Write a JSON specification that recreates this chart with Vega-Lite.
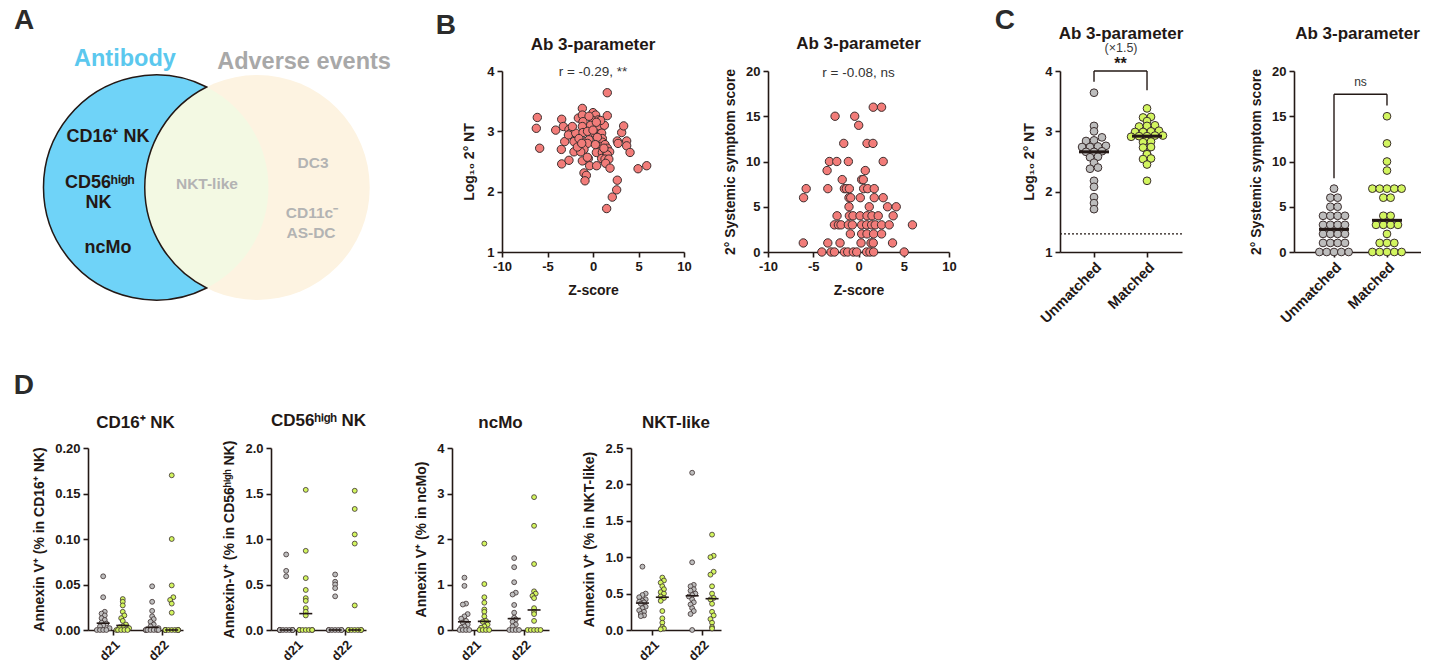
{
"$schema": "https://vega.github.io/schema/vega-lite/v6.json",
"background": "white",
"padding": {"left": 13, "top": 6, "right": 0, "bottom": 0},
"config": {
  "font": "Liberation Sans",
  "locale": {"number": {"decimal": ".", "thousands": ",", "grouping": [3], "currency": ["$", ""], "minus": "-"}},
  "view": {"stroke": null},
  "axis": {"grid": false, "domainColor": "#231815", "domainWidth": 1.6, "tickColor": "#231815", "tickWidth": 1.6, "tickSize": 5, "labelColor": "#231815", "labelFontWeight": "bold", "labelFontSize": 13, "labelPadding": 3, "labelFlush": false, "labelOverlap": false, "titleColor": "#231815", "titleFontWeight": "bold", "titleFontSize": 14, "titlePadding": 8},
  "title": {"fontSize": 17, "fontWeight": "bold", "color": "#231815", "frame": "group", "anchor": "middle", "subtitleFontSize": 12.5, "subtitleColor": "#3a3a3a", "subtitleFontWeight": "normal", "subtitlePadding": 0}
},
"datasets": {
  "venn_sets": [{"set": "Antibody", "cx": 0, "cy": 0}, {"set": "Adverse events", "cx": 0.9, "cy": 0}],
  "venn_labels": [
    {"text": "A", "kind": "panel", "set": "none", "x": -1.173, "y": 1.48},
    {"text": "Antibody", "kind": "heading", "set": "Antibody", "x": -0.276, "y": 1.14},
    {"text": "Adverse events", "kind": "heading", "set": "Adverse events", "x": 1.316, "y": 1.12},
    {"text": "CD16⁺ NK", "kind": "cell", "set": "Antibody", "x": -0.427, "y": 0.449},
    {"text": "CD56ʰⁱᵍʰ", "kind": "cell", "set": "Antibody", "x": -0.5, "y": 0.04},
    {"text": "NK", "kind": "cell", "set": "Antibody", "x": -0.51, "y": -0.138},
    {"text": "ncMo", "kind": "cell", "set": "Antibody", "x": -0.427, "y": -0.538},
    {"text": "NKT-like", "kind": "cell", "set": "Both", "x": 0.453, "y": 0.031},
    {"text": "DC3", "kind": "cell", "set": "Adverse events", "x": 1.396, "y": 0.217},
    {"text": "CD11c⁻", "kind": "cell", "set": "Adverse events", "x": 1.387, "y": -0.231},
    {"text": "AS-DC", "kind": "cell", "set": "Adverse events", "x": 1.378, "y": -0.4}
  ],
  "stats": [{"plot": "b_nt", "label": "r = -0.29, **"}, {"plot": "b_sym", "label": "r = -0.08, ns"}, {"plot": "c_nt", "label": "**"}, {"plot": "c_sym", "label": "ns"}],
  "b_nt": [{"z":1.57,"v":3.64},{"z":-1.17,"v":3.38},{"z":-6.12,"v":3.23},{"z":-6.23,"v":3.05},{"z":-5.86,"v":2.72},{"z":-3.44,"v":3.2},{"z":-4.1,"v":3.02},{"z":-3.48,"v":2.7},{"z":-3.44,"v":2.46},{"z":-2.64,"v":2.52},{"z":-3.11,"v":2.83},{"z":-3.26,"v":3.08},{"z":-2.64,"v":3.03},{"z":-2.45,"v":2.97},{"z":-2.7,"v":2.94},{"z":-2.09,"v":2.83},{"z":-1.9,"v":2.97},{"z":-1.61,"v":3.22},{"z":-1.17,"v":3.27},{"z":-1.1,"v":3.16},{"z":-1.17,"v":3.08},{"z":-1.1,"v":2.98},{"z":-1.54,"v":2.88},{"z":-0.8,"v":2.83},{"z":-0.44,"v":2.86},{"z":-0.6,"v":2.8},{"z":-0.99,"v":2.7},{"z":-1.72,"v":2.69},{"z":-2.09,"v":2.66},{"z":-1.35,"v":2.66},{"z":-1.17,"v":2.51},{"z":-0.51,"v":2.55},{"z":-0.37,"v":2.43},{"z":0.4,"v":2.43},{"z":-0.99,"v":2.31},{"z":-0.73,"v":2.27},{"z":-0.88,"v":2.18},{"z":0,"v":3.31},{"z":0.29,"v":3.27},{"z":0,"v":3.18},{"z":0.59,"v":3.19},{"z":-0.26,"v":3.1},{"z":0.66,"v":3.09},{"z":1.25,"v":3.1},{"z":1.57,"v":3.26},{"z":0.84,"v":3.18},{"z":0.11,"v":2.98},{"z":0.95,"v":2.97},{"z":1.03,"v":2.88},{"z":0.66,"v":2.82},{"z":1.03,"v":2.82},{"z":0.84,"v":2.75},{"z":1.32,"v":2.78},{"z":1.57,"v":2.72},{"z":0.66,"v":2.66},{"z":0.37,"v":2.65},{"z":1.03,"v":2.65},{"z":1.47,"v":2.66},{"z":1.83,"v":2.66},{"z":1.57,"v":2.61},{"z":0.95,"v":2.55},{"z":1.32,"v":2.54},{"z":1.74,"v":2.54},{"z":1.39,"v":2.47},{"z":1.87,"v":2.39},{"z":2.67,"v":2.84},{"z":3.15,"v":2.98},{"z":3.37,"v":3.09},{"z":2.75,"v":2.8},{"z":3.7,"v":2.84},{"z":3.7,"v":2.76},{"z":4.07,"v":2.65},{"z":4.95,"v":2.38},{"z":5.9,"v":2.43},{"z":2.67,"v":2.19},{"z":2.6,"v":2.03},{"z":2.12,"v":1.91},{"z":1.5,"v":1.72},{"z":-0.44,"v":3.25},{"z":0.37,"v":3.15},{"z":-2.27,"v":3.08},{"z":-0.6,"v":3.0},{"z":0.48,"v":2.9},{"z":1.2,"v":2.72},{"z":0.26,"v":2.78},{"z":-0.62,"v":2.57},{"z":-1.72,"v":2.74},{"z":-1.24,"v":2.8},{"z":0,"v":3.02}],
  "b_sym": [{"z":2.55,"v":16},{"z":1.63,"v":16},{"z":-2.59,"v":15},{"z":-0.42,"v":15},{"z":0.02,"v":14},{"z":-1.63,"v":12},{"z":0.94,"v":12},{"z":1.6,"v":12},{"z":-3.21,"v":10},{"z":-2.4,"v":10},{"z":-1.12,"v":10},{"z":2.73,"v":10},{"z":-3.47,"v":9},{"z":0.75,"v":9},{"z":-1.8,"v":8},{"z":0.35,"v":8},{"z":0.53,"v":8},{"z":-5.78,"v":7},{"z":-3.39,"v":7},{"z":-1.56,"v":7},{"z":-1.34,"v":7},{"z":-1.01,"v":7},{"z":0.57,"v":7},{"z":1.01,"v":7},{"z":1.74,"v":7},{"z":-6.07,"v":6},{"z":-1.05,"v":6},{"z":-0.86,"v":6},{"z":0.2,"v":6},{"z":1.74,"v":6},{"z":2.73,"v":6},{"z":-1.05,"v":5},{"z":1.19,"v":5},{"z":3.21,"v":5},{"z":4.17,"v":5},{"z":-2.37,"v":4},{"z":-1.01,"v":4},{"z":-0.61,"v":4},{"z":0.17,"v":4},{"z":0.94,"v":4},{"z":1.49,"v":4},{"z":2.18,"v":4},{"z":3.83,"v":4},{"z":-2.66,"v":3},{"z":-2.22,"v":3},{"z":-1.93,"v":3},{"z":-1.12,"v":3},{"z":-0.68,"v":3},{"z":0.35,"v":3},{"z":0.9,"v":3},{"z":1.45,"v":3},{"z":1.85,"v":3},{"z":2.55,"v":3},{"z":3.39,"v":3},{"z":5.96,"v":3},{"z":-0.9,"v":2},{"z":0.35,"v":2},{"z":0.94,"v":2},{"z":1.67,"v":2},{"z":2.55,"v":2},{"z":-6.1,"v":1},{"z":-3.39,"v":1},{"z":-2.04,"v":1},{"z":0.28,"v":1},{"z":1.38,"v":1},{"z":1.63,"v":1},{"z":3.76,"v":1},{"z":-4.05,"v":0},{"z":-3.03,"v":0},{"z":-2.66,"v":0},{"z":-1.56,"v":0},{"z":-1.19,"v":0},{"z":-0.57,"v":0},{"z":-0.2,"v":0},{"z":0.9,"v":0},{"z":1.27,"v":0},{"z":1.67,"v":0},{"z":5.05,"v":0}],
  "c_nt": [{"grp":"Unmatched","v":3.64},{"grp":"Unmatched","v":3.09},{"grp":"Unmatched","v":3.0},{"grp":"Unmatched","v":2.9},{"grp":"Unmatched","v":2.84},{"grp":"Unmatched","v":2.85},{"grp":"Unmatched","v":2.76},{"grp":"Unmatched","v":2.75},{"grp":"Unmatched","v":2.74},{"grp":"Unmatched","v":2.74},{"grp":"Unmatched","v":2.67},{"grp":"Unmatched","v":2.66},{"grp":"Unmatched","v":2.66},{"grp":"Unmatched","v":2.58},{"grp":"Unmatched","v":2.57},{"grp":"Unmatched","v":2.48},{"grp":"Unmatched","v":2.4},{"grp":"Unmatched","v":2.38},{"grp":"Unmatched","v":2.18},{"grp":"Unmatched","v":2.08},{"grp":"Unmatched","v":1.91},{"grp":"Unmatched","v":1.81},{"grp":"Unmatched","v":1.71},
    {"grp":"Matched","v":3.38},{"grp":"Matched","v":3.24},{"grp":"Matched","v":3.23},{"grp":"Matched","v":3.17},{"grp":"Matched","v":3.1},{"grp":"Matched","v":3.09},{"grp":"Matched","v":3.08},{"grp":"Matched","v":3.01},{"grp":"Matched","v":3.0},{"grp":"Matched","v":2.99},{"grp":"Matched","v":2.99},{"grp":"Matched","v":2.93},{"grp":"Matched","v":2.93},{"grp":"Matched","v":2.92},{"grp":"Matched","v":2.92},{"grp":"Matched","v":2.91},{"grp":"Matched","v":2.84},{"grp":"Matched","v":2.83},{"grp":"Matched","v":2.82},{"grp":"Matched","v":2.74},{"grp":"Matched","v":2.73},{"grp":"Matched","v":2.63},{"grp":"Matched","v":2.62},{"grp":"Matched","v":2.55},{"grp":"Matched","v":2.54},{"grp":"Matched","v":2.45},{"grp":"Matched","v":2.18}],
  "c_sym": [{"grp":"Unmatched","v":0},{"grp":"Unmatched","v":0},{"grp":"Unmatched","v":0},{"grp":"Unmatched","v":0},{"grp":"Unmatched","v":0},{"grp":"Unmatched","v":1},{"grp":"Unmatched","v":1},{"grp":"Unmatched","v":1},{"grp":"Unmatched","v":1},{"grp":"Unmatched","v":2},{"grp":"Unmatched","v":2},{"grp":"Unmatched","v":2},{"grp":"Unmatched","v":2},{"grp":"Unmatched","v":3},{"grp":"Unmatched","v":3},{"grp":"Unmatched","v":3},{"grp":"Unmatched","v":3},{"grp":"Unmatched","v":4},{"grp":"Unmatched","v":4},{"grp":"Unmatched","v":4},{"grp":"Unmatched","v":4},{"grp":"Unmatched","v":5},{"grp":"Unmatched","v":5},{"grp":"Unmatched","v":6},{"grp":"Unmatched","v":6},{"grp":"Unmatched","v":7},
    {"grp":"Matched","v":0},{"grp":"Matched","v":0},{"grp":"Matched","v":0},{"grp":"Matched","v":0},{"grp":"Matched","v":0},{"grp":"Matched","v":1},{"grp":"Matched","v":1},{"grp":"Matched","v":1},{"grp":"Matched","v":2},{"grp":"Matched","v":3},{"grp":"Matched","v":3},{"grp":"Matched","v":3},{"grp":"Matched","v":3},{"grp":"Matched","v":4},{"grp":"Matched","v":4},{"grp":"Matched","v":6},{"grp":"Matched","v":6},{"grp":"Matched","v":7},{"grp":"Matched","v":7},{"grp":"Matched","v":7},{"grp":"Matched","v":7},{"grp":"Matched","v":7},{"grp":"Matched","v":9},{"grp":"Matched","v":10},{"grp":"Matched","v":12},{"grp":"Matched","v":15}],
  "d_cd16": [{"day":"d21","grp":"Unmatched","v":0.059},{"day":"d21","grp":"Unmatched","v":0.036},{"day":"d21","grp":"Unmatched","v":0.02},{"day":"d21","grp":"Unmatched","v":0.018},{"day":"d21","grp":"Unmatched","v":0.016},{"day":"d21","grp":"Unmatched","v":0.013},{"day":"d21","grp":"Unmatched","v":0.011},{"day":"d21","grp":"Unmatched","v":0.008},{"day":"d21","grp":"Unmatched","v":0.007},{"day":"d21","grp":"Unmatched","v":0.005},{"day":"d21","grp":"Unmatched","v":0.004},{"day":"d21","grp":"Unmatched","v":0.002},{"day":"d21","grp":"Unmatched","v":0},{"day":"d21","grp":"Unmatched","v":0},{"day":"d21","grp":"Unmatched","v":0},{"day":"d21","grp":"Unmatched","v":0},
    {"day":"d21","grp":"Matched","v":0.034},{"day":"d21","grp":"Matched","v":0.031},{"day":"d21","grp":"Matched","v":0.027},{"day":"d21","grp":"Matched","v":0.02},{"day":"d21","grp":"Matched","v":0.016},{"day":"d21","grp":"Matched","v":0.013},{"day":"d21","grp":"Matched","v":0.01},{"day":"d21","grp":"Matched","v":0.006},{"day":"d21","grp":"Matched","v":0.004},{"day":"d21","grp":"Matched","v":0.003},{"day":"d21","grp":"Matched","v":0.002},{"day":"d21","grp":"Matched","v":0},{"day":"d21","grp":"Matched","v":0},{"day":"d21","grp":"Matched","v":0},{"day":"d21","grp":"Matched","v":0},{"day":"d21","grp":"Matched","v":0},
    {"day":"d22","grp":"Unmatched","v":0.048},{"day":"d22","grp":"Unmatched","v":0.031},{"day":"d22","grp":"Unmatched","v":0.021},{"day":"d22","grp":"Unmatched","v":0.015},{"day":"d22","grp":"Unmatched","v":0.012},{"day":"d22","grp":"Unmatched","v":0.009},{"day":"d22","grp":"Unmatched","v":0.006},{"day":"d22","grp":"Unmatched","v":0.004},{"day":"d22","grp":"Unmatched","v":0.002},{"day":"d22","grp":"Unmatched","v":0},{"day":"d22","grp":"Unmatched","v":0},{"day":"d22","grp":"Unmatched","v":0},{"day":"d22","grp":"Unmatched","v":0},{"day":"d22","grp":"Unmatched","v":0},{"day":"d22","grp":"Unmatched","v":0},{"day":"d22","grp":"Unmatched","v":0},
    {"day":"d22","grp":"Matched","v":0.17},{"day":"d22","grp":"Matched","v":0.1},{"day":"d22","grp":"Matched","v":0.049},{"day":"d22","grp":"Matched","v":0.036},{"day":"d22","grp":"Matched","v":0.033},{"day":"d22","grp":"Matched","v":0.029},{"day":"d22","grp":"Matched","v":0.019},{"day":"d22","grp":"Matched","v":0},{"day":"d22","grp":"Matched","v":0},{"day":"d22","grp":"Matched","v":0},{"day":"d22","grp":"Matched","v":0},{"day":"d22","grp":"Matched","v":0},{"day":"d22","grp":"Matched","v":0},{"day":"d22","grp":"Matched","v":0},{"day":"d22","grp":"Matched","v":0},{"day":"d22","grp":"Matched","v":0}],
  "d_cd56": [{"day":"d21","grp":"Unmatched","v":0.83},{"day":"d21","grp":"Unmatched","v":0.65},{"day":"d21","grp":"Unmatched","v":0.59},{"day":"d21","grp":"Unmatched","v":0},{"day":"d21","grp":"Unmatched","v":0},{"day":"d21","grp":"Unmatched","v":0},{"day":"d21","grp":"Unmatched","v":0},{"day":"d21","grp":"Unmatched","v":0},{"day":"d21","grp":"Unmatched","v":0},{"day":"d21","grp":"Unmatched","v":0},{"day":"d21","grp":"Unmatched","v":0},{"day":"d21","grp":"Unmatched","v":0},
    {"day":"d21","grp":"Matched","v":1.54},{"day":"d21","grp":"Matched","v":0.87},{"day":"d21","grp":"Matched","v":0.57},{"day":"d21","grp":"Matched","v":0.44},{"day":"d21","grp":"Matched","v":0.35},{"day":"d21","grp":"Matched","v":0.32},{"day":"d21","grp":"Matched","v":0.24},{"day":"d21","grp":"Matched","v":0.2},{"day":"d21","grp":"Matched","v":0.16},{"day":"d21","grp":"Matched","v":0},{"day":"d21","grp":"Matched","v":0},{"day":"d21","grp":"Matched","v":0},{"day":"d21","grp":"Matched","v":0},{"day":"d21","grp":"Matched","v":0},{"day":"d21","grp":"Matched","v":0},{"day":"d21","grp":"Matched","v":0},
    {"day":"d22","grp":"Unmatched","v":0.61},{"day":"d22","grp":"Unmatched","v":0.53},{"day":"d22","grp":"Unmatched","v":0.5},{"day":"d22","grp":"Unmatched","v":0.46},{"day":"d22","grp":"Unmatched","v":0.37},{"day":"d22","grp":"Unmatched","v":0},{"day":"d22","grp":"Unmatched","v":0},{"day":"d22","grp":"Unmatched","v":0},{"day":"d22","grp":"Unmatched","v":0},{"day":"d22","grp":"Unmatched","v":0},{"day":"d22","grp":"Unmatched","v":0},{"day":"d22","grp":"Unmatched","v":0},
    {"day":"d22","grp":"Matched","v":1.53},{"day":"d22","grp":"Matched","v":1.33},{"day":"d22","grp":"Matched","v":1.05},{"day":"d22","grp":"Matched","v":0.95},{"day":"d22","grp":"Matched","v":0.27},{"day":"d22","grp":"Matched","v":0},{"day":"d22","grp":"Matched","v":0},{"day":"d22","grp":"Matched","v":0},{"day":"d22","grp":"Matched","v":0},{"day":"d22","grp":"Matched","v":0},{"day":"d22","grp":"Matched","v":0},{"day":"d22","grp":"Matched","v":0}],
  "d_ncmo": [{"day":"d21","grp":"Unmatched","v":1.15},{"day":"d21","grp":"Unmatched","v":0.97},{"day":"d21","grp":"Unmatched","v":0.58},{"day":"d21","grp":"Unmatched","v":0.56},{"day":"d21","grp":"Unmatched","v":0.35},{"day":"d21","grp":"Unmatched","v":0.3},{"day":"d21","grp":"Unmatched","v":0.25},{"day":"d21","grp":"Unmatched","v":0.2},{"day":"d21","grp":"Unmatched","v":0.16},{"day":"d21","grp":"Unmatched","v":0.12},{"day":"d21","grp":"Unmatched","v":0.08},{"day":"d21","grp":"Unmatched","v":0.05},{"day":"d21","grp":"Unmatched","v":0},{"day":"d21","grp":"Unmatched","v":0},{"day":"d21","grp":"Unmatched","v":0},{"day":"d21","grp":"Unmatched","v":0},
    {"day":"d21","grp":"Matched","v":1.9},{"day":"d21","grp":"Matched","v":1.01},{"day":"d21","grp":"Matched","v":0.72},{"day":"d21","grp":"Matched","v":0.6},{"day":"d21","grp":"Matched","v":0.45},{"day":"d21","grp":"Matched","v":0.4},{"day":"d21","grp":"Matched","v":0.3},{"day":"d21","grp":"Matched","v":0.2},{"day":"d21","grp":"Matched","v":0.18},{"day":"d21","grp":"Matched","v":0.12},{"day":"d21","grp":"Matched","v":0.08},{"day":"d21","grp":"Matched","v":0.05},{"day":"d21","grp":"Matched","v":0},{"day":"d21","grp":"Matched","v":0},{"day":"d21","grp":"Matched","v":0},{"day":"d21","grp":"Matched","v":0},
    {"day":"d22","grp":"Unmatched","v":1.58},{"day":"d22","grp":"Unmatched","v":1.38},{"day":"d22","grp":"Unmatched","v":1.05},{"day":"d22","grp":"Unmatched","v":0.82},{"day":"d22","grp":"Unmatched","v":0.78},{"day":"d22","grp":"Unmatched","v":0.55},{"day":"d22","grp":"Unmatched","v":0.38},{"day":"d22","grp":"Unmatched","v":0.27},{"day":"d22","grp":"Unmatched","v":0.23},{"day":"d22","grp":"Unmatched","v":0.18},{"day":"d22","grp":"Unmatched","v":0.12},{"day":"d22","grp":"Unmatched","v":0.08},{"day":"d22","grp":"Unmatched","v":0},{"day":"d22","grp":"Unmatched","v":0},{"day":"d22","grp":"Unmatched","v":0},{"day":"d22","grp":"Unmatched","v":0},
    {"day":"d22","grp":"Matched","v":2.92},{"day":"d22","grp":"Matched","v":2.29},{"day":"d22","grp":"Matched","v":1.45},{"day":"d22","grp":"Matched","v":0.85},{"day":"d22","grp":"Matched","v":0.8},{"day":"d22","grp":"Matched","v":0.75},{"day":"d22","grp":"Matched","v":0.7},{"day":"d22","grp":"Matched","v":0.48},{"day":"d22","grp":"Matched","v":0.4},{"day":"d22","grp":"Matched","v":0.35},{"day":"d22","grp":"Matched","v":0.2},{"day":"d22","grp":"Matched","v":0},{"day":"d22","grp":"Matched","v":0},{"day":"d22","grp":"Matched","v":0},{"day":"d22","grp":"Matched","v":0},{"day":"d22","grp":"Matched","v":0}],
  "d_nkt": [{"day":"d21","grp":"Unmatched","v":0.87},{"day":"d21","grp":"Unmatched","v":0.5},{"day":"d21","grp":"Unmatched","v":0.48},{"day":"d21","grp":"Unmatched","v":0.45},{"day":"d21","grp":"Unmatched","v":0.42},{"day":"d21","grp":"Unmatched","v":0.4},{"day":"d21","grp":"Unmatched","v":0.39},{"day":"d21","grp":"Unmatched","v":0.38},{"day":"d21","grp":"Unmatched","v":0.36},{"day":"d21","grp":"Unmatched","v":0.32},{"day":"d21","grp":"Unmatched","v":0.3},{"day":"d21","grp":"Unmatched","v":0.27},{"day":"d21","grp":"Unmatched","v":0.25},{"day":"d21","grp":"Unmatched","v":0.22},{"day":"d21","grp":"Unmatched","v":0.2},{"day":"d21","grp":"Unmatched","v":0.19},
    {"day":"d21","grp":"Matched","v":0.72},{"day":"d21","grp":"Matched","v":0.68},{"day":"d21","grp":"Matched","v":0.65},{"day":"d21","grp":"Matched","v":0.6},{"day":"d21","grp":"Matched","v":0.56},{"day":"d21","grp":"Matched","v":0.52},{"day":"d21","grp":"Matched","v":0.5},{"day":"d21","grp":"Matched","v":0.46},{"day":"d21","grp":"Matched","v":0.44},{"day":"d21","grp":"Matched","v":0.4},{"day":"d21","grp":"Matched","v":0.26},{"day":"d21","grp":"Matched","v":0.16},{"day":"d21","grp":"Matched","v":0.1},{"day":"d21","grp":"Matched","v":0.04},{"day":"d21","grp":"Matched","v":0.02},{"day":"d21","grp":"Matched","v":0.01},
    {"day":"d22","grp":"Unmatched","v":2.16},{"day":"d22","grp":"Unmatched","v":0.93},{"day":"d22","grp":"Unmatched","v":0.62},{"day":"d22","grp":"Unmatched","v":0.6},{"day":"d22","grp":"Unmatched","v":0.56},{"day":"d22","grp":"Unmatched","v":0.54},{"day":"d22","grp":"Unmatched","v":0.5},{"day":"d22","grp":"Unmatched","v":0.48},{"day":"d22","grp":"Unmatched","v":0.46},{"day":"d22","grp":"Unmatched","v":0.42},{"day":"d22","grp":"Unmatched","v":0.38},{"day":"d22","grp":"Unmatched","v":0.35},{"day":"d22","grp":"Unmatched","v":0.3},{"day":"d22","grp":"Unmatched","v":0.26},{"day":"d22","grp":"Unmatched","v":0.22},{"day":"d22","grp":"Unmatched","v":0},
    {"day":"d22","grp":"Matched","v":1.31},{"day":"d22","grp":"Matched","v":1.02},{"day":"d22","grp":"Matched","v":1.0},{"day":"d22","grp":"Matched","v":0.8},{"day":"d22","grp":"Matched","v":0.76},{"day":"d22","grp":"Matched","v":0.6},{"day":"d22","grp":"Matched","v":0.5},{"day":"d22","grp":"Matched","v":0.44},{"day":"d22","grp":"Matched","v":0.42},{"day":"d22","grp":"Matched","v":0.36},{"day":"d22","grp":"Matched","v":0.25},{"day":"d22","grp":"Matched","v":0.2},{"day":"d22","grp":"Matched","v":0.15},{"day":"d22","grp":"Matched","v":0.1},{"day":"d22","grp":"Matched","v":0.04},{"day":"d22","grp":"Matched","v":0.02}]
},
"spacing": 46,
"vconcat": [
 {"spacing": 37, "hconcat": [
  {"width": 310, "height": 250, "view": {"fill": "#ffffff"},
   "layer": [
    {"data": {"name": "venn_sets"}, "transform": [{"filter": "datum.set == 'Adverse events'"}],
     "mark": {"type": "point", "shape": "circle", "size": 50625, "filled": true, "fill": "#fdf3e1", "opacity": 1, "strokeWidth": 0},
     "encoding": {"x": {"field": "cx", "type": "quantitative", "scale": {"domain": [-0.6044, 2.1512], "nice": false, "zero": false}, "axis": null},
                  "y": {"field": "cy", "type": "quantitative", "scale": {"domain": [-1.1866, 1.0356], "nice": false, "zero": false}, "axis": null}}},
    {"data": {"name": "venn_sets"}, "transform": [{"filter": "datum.set == 'Antibody'"}],
     "mark": {"type": "point", "shape": "M0.45,-0.893A1,1,0,0,1,0.45,0.893A1,1,0,0,1,0.45,-0.893Z", "size": 50625, "filled": true, "fill": "#f3f9e3", "opacity": 1, "strokeWidth": 0},
     "encoding": {"x": {"field": "cx", "type": "quantitative"}, "y": {"field": "cy", "type": "quantitative"}}},
    {"data": {"name": "venn_sets"}, "transform": [{"filter": "datum.set == 'Antibody'"}],
     "mark": {"type": "point", "shape": "M0.45,-0.893A1,1,0,1,0,0.45,0.893A1,1,0,0,1,0.45,-0.893Z", "size": 50625, "filled": true, "fill": "#6fd3f8", "opacity": 1, "stroke": "#231815", "strokeWidth": 1.5},
     "encoding": {"x": {"field": "cx", "type": "quantitative"}, "y": {"field": "cy", "type": "quantitative"}}},
    {"data": {"name": "venn_labels"}, "transform": [{"filter": "datum.kind == 'panel'"}],
     "mark": {"type": "text", "fontSize": 28, "fontWeight": "bold", "color": "#2b2b2b", "align": "center", "baseline": "middle"},
     "encoding": {"x": {"field": "x", "type": "quantitative"}, "y": {"field": "y", "type": "quantitative"}, "text": {"field": "text"}}},
    {"data": {"name": "venn_labels"}, "transform": [{"filter": "datum.kind == 'heading' && datum.set == 'Antibody'"}],
     "mark": {"type": "text", "fontSize": 23.5, "fontWeight": "bold", "color": "#5bc8ee", "align": "center", "baseline": "middle"},
     "encoding": {"x": {"field": "x", "type": "quantitative"}, "y": {"field": "y", "type": "quantitative"}, "text": {"field": "text"}}},
    {"data": {"name": "venn_labels"}, "transform": [{"filter": "datum.kind == 'heading' && datum.set == 'Adverse events'"}],
     "mark": {"type": "text", "fontSize": 23.5, "fontWeight": "bold", "color": "#a8a8a8", "align": "center", "baseline": "middle"},
     "encoding": {"x": {"field": "x", "type": "quantitative"}, "y": {"field": "y", "type": "quantitative"}, "text": {"field": "text"}}},
    {"data": {"name": "venn_labels"}, "transform": [{"filter": "datum.kind == 'cell' && datum.set == 'Antibody'"}],
     "mark": {"type": "text", "fontSize": 18, "fontWeight": "bold", "color": "#231815", "align": "center", "baseline": "middle"},
     "encoding": {"x": {"field": "x", "type": "quantitative"}, "y": {"field": "y", "type": "quantitative"}, "text": {"field": "text"}}},
    {"data": {"name": "venn_labels"}, "transform": [{"filter": "datum.kind == 'cell' && datum.set != 'Antibody'"}],
     "mark": {"type": "text", "fontSize": 15.5, "fontWeight": "bold", "color": "#b3b3b3", "align": "center", "baseline": "middle"},
     "encoding": {"x": {"field": "x", "type": "quantitative"}, "y": {"field": "y", "type": "quantitative"}, "text": {"field": "text"}}}
   ]},
  {"title": {"text": "B", "anchor": "start", "frame": "bounds", "fontSize": 28, "dx": -27, "offset": -5, "color": "#2b2b2b"},
   "spacing": 31, "hconcat": [
    {"width": 182, "height": 181, "title": {"text": "Ab 3-parameter", "offset": 11},
     "layer": [
      {"data": {"name": "b_nt"}, "mark": {"type": "point", "filled": true, "size": 70, "fill": "#f27c79", "stroke": "#3b2e2e", "strokeWidth": 1, "opacity": 1},
       "encoding": {"x": {"field": "z", "type": "quantitative", "title": "Z-score", "scale": {"domain": [-10, 10], "nice": false, "zero": false}, "axis": {"values": [-10, -5, 0, 5, 10], "tickCount": 12, "format": "d", "titlePadding": 10, "labelOverlap": false}},
                    "y": {"field": "v", "type": "quantitative", "title": "Log₁₀ 2° NT", "scale": {"domain": [1, 4], "nice": false, "zero": false}, "axis": {"values": [1, 2, 3, 4], "tickCount": 12, "format": "d", "titlePadding": 10, "labelOverlap": false}}}},
      {"data": {"name": "stats"}, "transform": [{"filter": "datum.plot == 'b_nt'"}],
       "mark": {"type": "text", "fontSize": 13.5, "color": "#333333", "baseline": "middle"},
       "encoding": {"x": {"datum": 0}, "y": {"datum": 3.99}, "text": {"field": "label"}}}
     ]},
    {"width": 181, "height": 181, "title": {"text": "Ab 3-parameter", "offset": 12},
     "layer": [
      {"data": {"name": "b_sym"}, "mark": {"type": "point", "filled": true, "size": 70, "fill": "#f27c79", "stroke": "#3b2e2e", "strokeWidth": 1, "opacity": 1},
       "encoding": {"x": {"field": "z", "type": "quantitative", "title": "Z-score", "scale": {"domain": [-10, 10], "nice": false, "zero": false}, "axis": {"values": [-10, -5, 0, 5, 10], "tickCount": 12, "format": "d", "titlePadding": 10, "labelOverlap": false}},
                    "y": {"field": "v", "type": "quantitative", "title": "2° Systemic symptom score", "scale": {"domain": [0, 20], "nice": false}, "axis": {"values": [0, 5, 10, 15, 20], "tickCount": 12, "format": "d", "titlePadding": 8, "labelOverlap": false}}}},
      {"data": {"name": "stats"}, "transform": [{"filter": "datum.plot == 'b_sym'"}],
       "mark": {"type": "text", "fontSize": 13.5, "color": "#333333", "baseline": "middle"},
       "encoding": {"x": {"datum": 0}, "y": {"datum": 19.8}, "text": {"field": "label"}}}
     ]}
  ]},
  {"title": {"text": "C", "anchor": "start", "frame": "bounds", "fontSize": 28, "dx": -28, "offset": -10, "color": "#2b2b2b"},
   "spacing": 65, "hconcat": [
    {"width": 122, "height": 181, "title": {"text": "Ab 3-parameter", "subtitle": "(×1.5)", "offset": 1, "subtitlePadding": -1},
     "layer": [
      {"data": {"name": "c_nt"},
       "transform": [
         {"calculate": "round(datum.v / 0.07)", "as": "row"},
         {"joinaggregate": [{"op": "count", "as": "n"}], "groupby": ["grp", "row"]},
         {"window": [{"op": "row_number", "as": "k"}], "groupby": ["grp", "row"], "sort": [{"field": "v", "order": "ascending"}]},
         {"calculate": "indexof(['Unmatched','Matched'], datum.grp) + (datum.k - (datum.n + 1) / 2) * 0.15", "as": "pos"}],
       "mark": {"type": "point", "filled": true, "size": 60, "stroke": "#3b2e2e", "strokeWidth": 1, "opacity": 1},
       "encoding": {"x": {"field": "pos", "type": "quantitative", "title": null, "scale": {"domain": [-0.6415, 1.66], "nice": false, "zero": false}, "axis": {"values": [0, 1], "labelExpr": "datum.value == 0 ? 'Unmatched' : 'Matched'", "labelAngle": -45, "labelFontSize": 14.5, "labelOverlap": false}},
                    "y": {"field": "v", "type": "quantitative", "title": "Log₁₀ 2° NT", "scale": {"domain": [1, 4], "nice": false, "zero": false}, "axis": {"values": [1, 2, 3, 4], "tickCount": 12, "format": "d", "labelOverlap": false}},
                    "color": {"field": "grp", "type": "nominal", "scale": {"domain": ["Unmatched", "Matched"], "range": ["#bdbdbd", "#d2f55f"]}, "legend": null}}},
      {"data": {"name": "c_nt"},
       "transform": [{"aggregate": [{"op": "median", "field": "v", "as": "med"}], "groupby": ["grp"]}, {"calculate": "indexof(['Unmatched','Matched'], datum.grp)", "as": "pos"}],
       "mark": {"type": "tick", "orient": "horizontal", "size": 30, "thickness": 3, "color": "#231815", "opacity": 1},
       "encoding": {"x": {"field": "pos", "type": "quantitative", "title": null}, "y": {"field": "med", "type": "quantitative", "title": "Log₁₀ 2° NT"}}},
      {"data": {"name": "stats"}, "transform": [{"filter": "datum.plot == 'c_nt'"}],
       "mark": {"type": "rule", "color": "#231815", "strokeWidth": 1.2, "strokeDash": [2, 2]},
       "encoding": {"y": {"datum": 1.3}}},
      {"data": {"name": "stats"}, "transform": [{"filter": "datum.plot == 'c_nt'"}],
       "mark": {"type": "rule", "color": "#231815", "strokeWidth": 1.4},
       "encoding": {"x": {"datum": 0}, "x2": {"datum": 1}, "y": {"datum": 4.0}}},
      {"data": {"name": "stats"}, "transform": [{"filter": "datum.plot == 'c_nt'"}],
       "mark": {"type": "rule", "color": "#231815", "strokeWidth": 1.4},
       "encoding": {"x": {"datum": 0}, "y": {"datum": 4.0}, "y2": {"datum": 3.82}}},
      {"data": {"name": "stats"}, "transform": [{"filter": "datum.plot == 'c_nt'"}],
       "mark": {"type": "rule", "color": "#231815", "strokeWidth": 1.4},
       "encoding": {"x": {"datum": 1}, "y": {"datum": 4.0}, "y2": {"datum": 3.68}}},
      {"data": {"name": "stats"}, "transform": [{"filter": "datum.plot == 'c_nt'"}],
       "mark": {"type": "text", "fontSize": 16, "fontWeight": "bold", "color": "#231815", "baseline": "middle"},
       "encoding": {"x": {"datum": 0.5}, "y": {"datum": 4.11}, "text": {"field": "label"}}}
     ]},
    {"width": 127, "height": 181, "title": {"text": "Ab 3-parameter", "offset": 22},
     "layer": [
      {"data": {"name": "c_sym"},
       "transform": [
         {"calculate": "round(datum.v)", "as": "row"},
         {"joinaggregate": [{"op": "count", "as": "n"}], "groupby": ["grp", "row"]},
         {"window": [{"op": "row_number", "as": "k"}], "groupby": ["grp", "row"], "sort": [{"field": "v", "order": "ascending"}]},
         {"calculate": "indexof(['Unmatched','Matched'], datum.grp) + (datum.k - (datum.n + 1) / 2) * 0.138", "as": "pos"}],
       "mark": {"type": "point", "filled": true, "size": 60, "stroke": "#3b2e2e", "strokeWidth": 1, "opacity": 1},
       "encoding": {"x": {"field": "pos", "type": "quantitative", "title": null, "scale": {"domain": [-0.755, 1.642], "nice": false, "zero": false}, "axis": {"values": [0, 1], "labelExpr": "datum.value == 0 ? 'Unmatched' : 'Matched'", "labelAngle": -45, "labelFontSize": 14.5, "labelOverlap": false}},
                    "y": {"field": "v", "type": "quantitative", "title": "2° Systemic symptom score", "scale": {"domain": [0, 20], "nice": false}, "axis": {"values": [0, 5, 10, 15, 20], "tickCount": 12, "format": "d", "labelOverlap": false}},
                    "color": {"field": "grp", "type": "nominal", "scale": {"domain": ["Unmatched", "Matched"], "range": ["#bdbdbd", "#d2f55f"]}, "legend": null}}},
      {"data": {"name": "c_sym"},
       "transform": [{"aggregate": [{"op": "median", "field": "v", "as": "med"}], "groupby": ["grp"]}, {"calculate": "indexof(['Unmatched','Matched'], datum.grp)", "as": "pos"}],
       "mark": {"type": "tick", "orient": "horizontal", "size": 30, "thickness": 3, "color": "#231815", "opacity": 1},
       "encoding": {"x": {"field": "pos", "type": "quantitative", "title": null}, "y": {"field": "med", "type": "quantitative", "title": "2° Systemic symptom score"}}},
      {"data": {"name": "stats"}, "transform": [{"filter": "datum.plot == 'c_sym'"}],
       "mark": {"type": "rule", "color": "#231815", "strokeWidth": 1.4},
       "encoding": {"x": {"datum": 0}, "x2": {"datum": 1}, "y": {"datum": 17.43}}},
      {"data": {"name": "stats"}, "transform": [{"filter": "datum.plot == 'c_sym'"}],
       "mark": {"type": "rule", "color": "#231815", "strokeWidth": 1.4},
       "encoding": {"x": {"datum": 0}, "y": {"datum": 17.43}, "y2": {"datum": 8.15}}},
      {"data": {"name": "stats"}, "transform": [{"filter": "datum.plot == 'c_sym'"}],
       "mark": {"type": "rule", "color": "#231815", "strokeWidth": 1.4},
       "encoding": {"x": {"datum": 1}, "y": {"datum": 17.43}, "y2": {"datum": 16.2}}},
      {"data": {"name": "stats"}, "transform": [{"filter": "datum.plot == 'c_sym'"}],
       "mark": {"type": "text", "fontSize": 12, "color": "#333333", "baseline": "middle"},
       "encoding": {"x": {"datum": 0.5}, "y": {"datum": 18.83}, "text": {"field": "label"}}}
     ]}
  ]}
 ]},
 {"title": {"text": "D", "anchor": "start", "frame": "bounds", "fontSize": 28, "dx": -19, "offset": 12, "color": "#2b2b2b"},
  "spacing": 48, "hconcat": [
  {"spacing": 39, "hconcat": [
   {"width": 95, "height": 182, "title": {"text": "CD16⁺ NK", "offset": 10}, "data": {"name": "d_cd16"},
    "layer": [
     {"transform": [
        {"calculate": "round(datum.v / 0.005)", "as": "row"},
        {"joinaggregate": [{"op": "count", "as": "n"}], "groupby": ["day", "grp", "row"]},
        {"window": [{"op": "row_number", "as": "k"}], "groupby": ["day", "grp", "row"], "sort": [{"field": "v", "order": "ascending"}]},
        {"calculate": "indexof(['d21','d22'], datum.day) + (datum.grp == 'Matched' ? 0.2 : -0.2) + clamp(datum.k - (datum.n + 1) / 2, -2, 2) * 0.065", "as": "pos"}],
      "mark": {"type": "point", "filled": true, "size": 24, "stroke": "#3b2e2e", "strokeWidth": 0.8, "opacity": 1},
      "encoding": {"x": {"field": "pos", "type": "quantitative", "title": null, "scale": {"domain": [-0.51, 1.43], "nice": false, "zero": false}, "axis": {"values": [0, 1], "labelExpr": "datum.value == 0 ? 'd21' : 'd22'", "labelAngle": -45, "labelOverlap": false}},
                   "y": {"field": "v", "type": "quantitative", "title": "Annexin V⁺ (% in CD16⁺ NK)", "scale": {"domain": [0, 0.2], "nice": false}, "axis": {"values": [0, 0.05, 0.1, 0.15, 0.2], "tickCount": 12, "format": ".2f", "labelOverlap": false}},
                   "color": {"field": "grp", "type": "nominal", "scale": {"domain": ["Unmatched", "Matched"], "range": ["#bdbdbd", "#d2f55f"]}, "legend": null}}},
     {"transform": [{"aggregate": [{"op": "median", "field": "v", "as": "med"}], "groupby": ["day", "grp"]}, {"calculate": "indexof(['d21','d22'], datum.day) + (datum.grp == 'Matched' ? 0.2 : -0.2)", "as": "pos"}],
      "mark": {"type": "tick", "orient": "horizontal", "size": 13, "thickness": 1.6, "color": "#231815", "opacity": 1},
      "encoding": {"x": {"field": "pos", "type": "quantitative", "title": null}, "y": {"field": "med", "type": "quantitative", "title": "Annexin V⁺ (% in CD16⁺ NK)"}}}
    ]},
   {"width": 95, "height": 182, "title": {"text": "CD56ʰⁱᵍʰ NK", "offset": 10}, "data": {"name": "d_cd56"},
    "layer": [
     {"transform": [
        {"calculate": "round(datum.v / 0.05)", "as": "row"},
        {"joinaggregate": [{"op": "count", "as": "n"}], "groupby": ["day", "grp", "row"]},
        {"window": [{"op": "row_number", "as": "k"}], "groupby": ["day", "grp", "row"], "sort": [{"field": "v", "order": "ascending"}]},
        {"calculate": "indexof(['d21','d22'], datum.day) + (datum.grp == 'Matched' ? 0.2 : -0.2) + clamp(datum.k - (datum.n + 1) / 2, -2, 2) * 0.065", "as": "pos"}],
      "mark": {"type": "point", "filled": true, "size": 24, "stroke": "#3b2e2e", "strokeWidth": 0.8, "opacity": 1},
      "encoding": {"x": {"field": "pos", "type": "quantitative", "title": null, "scale": {"domain": [-0.51, 1.43], "nice": false, "zero": false}, "axis": {"values": [0, 1], "labelExpr": "datum.value == 0 ? 'd21' : 'd22'", "labelAngle": -45, "labelOverlap": false}},
                   "y": {"field": "v", "type": "quantitative", "title": "Annexin-V⁺ (% in CD56ʰⁱᵍʰ NK)", "scale": {"domain": [0, 2], "nice": false}, "axis": {"values": [0, 0.5, 1, 1.5, 2], "tickCount": 12, "format": ".1f", "labelOverlap": false}},
                   "color": {"field": "grp", "type": "nominal", "scale": {"domain": ["Unmatched", "Matched"], "range": ["#bdbdbd", "#d2f55f"]}, "legend": null}}},
     {"transform": [{"aggregate": [{"op": "median", "field": "v", "as": "med"}], "groupby": ["day", "grp"]}, {"calculate": "indexof(['d21','d22'], datum.day) + (datum.grp == 'Matched' ? 0.2 : -0.2)", "as": "pos"}],
      "mark": {"type": "tick", "orient": "horizontal", "size": 13, "thickness": 1.6, "color": "#231815", "opacity": 1},
      "encoding": {"x": {"field": "pos", "type": "quantitative", "title": null}, "y": {"field": "med", "type": "quantitative", "title": "Annexin-V⁺ (% in CD56ʰⁱᵍʰ NK)"}}}
    ]}
  ]},
  {"spacing": 33, "hconcat": [
   {"width": 97, "height": 182, "title": {"text": "ncMo", "offset": 10}, "data": {"name": "d_ncmo"},
    "layer": [
     {"transform": [
        {"calculate": "round(datum.v / 0.1)", "as": "row"},
        {"joinaggregate": [{"op": "count", "as": "n"}], "groupby": ["day", "grp", "row"]},
        {"window": [{"op": "row_number", "as": "k"}], "groupby": ["day", "grp", "row"], "sort": [{"field": "v", "order": "ascending"}]},
        {"calculate": "indexof(['d21','d22'], datum.day) + (datum.grp == 'Matched' ? 0.2 : -0.2) + clamp(datum.k - (datum.n + 1) / 2, -2, 2) * 0.065", "as": "pos"}],
      "mark": {"type": "point", "filled": true, "size": 24, "stroke": "#3b2e2e", "strokeWidth": 0.8, "opacity": 1},
      "encoding": {"x": {"field": "pos", "type": "quantitative", "title": null, "scale": {"domain": [-0.45, 1.5], "nice": false, "zero": false}, "axis": {"values": [0, 1], "labelExpr": "datum.value == 0 ? 'd21' : 'd22'", "labelAngle": -45, "labelOverlap": false}},
                   "y": {"field": "v", "type": "quantitative", "title": "Annexin V⁺ (% in ncMo)", "scale": {"domain": [0, 4], "nice": false}, "axis": {"values": [0, 1, 2, 3, 4], "tickCount": 12, "format": "d", "labelOverlap": false}},
                   "color": {"field": "grp", "type": "nominal", "scale": {"domain": ["Unmatched", "Matched"], "range": ["#bdbdbd", "#d2f55f"]}, "legend": null}}},
     {"transform": [{"aggregate": [{"op": "median", "field": "v", "as": "med"}], "groupby": ["day", "grp"]}, {"calculate": "indexof(['d21','d22'], datum.day) + (datum.grp == 'Matched' ? 0.2 : -0.2)", "as": "pos"}],
      "mark": {"type": "tick", "orient": "horizontal", "size": 13, "thickness": 1.6, "color": "#231815", "opacity": 1},
      "encoding": {"x": {"field": "pos", "type": "quantitative", "title": null}, "y": {"field": "med", "type": "quantitative", "title": "Annexin V⁺ (% in ncMo)"}}}
    ]},
   {"width": 90, "height": 182, "title": {"text": "NKT-like", "offset": 10}, "data": {"name": "d_nkt"},
    "layer": [
     {"transform": [
        {"calculate": "round(datum.v / 0.06)", "as": "row"},
        {"joinaggregate": [{"op": "count", "as": "n"}], "groupby": ["day", "grp", "row"]},
        {"window": [{"op": "row_number", "as": "k"}], "groupby": ["day", "grp", "row"], "sort": [{"field": "v", "order": "ascending"}]},
        {"calculate": "indexof(['d21','d22'], datum.day) + (datum.grp == 'Matched' ? 0.2 : -0.2) + clamp(datum.k - (datum.n + 1) / 2, -2, 2) * 0.065", "as": "pos"}],
      "mark": {"type": "point", "filled": true, "size": 24, "stroke": "#3b2e2e", "strokeWidth": 0.8, "opacity": 1},
      "encoding": {"x": {"field": "pos", "type": "quantitative", "title": null, "scale": {"domain": [-0.43, 1.38], "nice": false, "zero": false}, "axis": {"values": [0, 1], "labelExpr": "datum.value == 0 ? 'd21' : 'd22'", "labelAngle": -45, "labelOverlap": false}},
                   "y": {"field": "v", "type": "quantitative", "title": "Annexin V⁺ (% in NKT-like)", "scale": {"domain": [0, 2.5], "nice": false}, "axis": {"values": [0, 0.5, 1, 1.5, 2, 2.5], "tickCount": 12, "format": ".1f", "labelOverlap": false}},
                   "color": {"field": "grp", "type": "nominal", "scale": {"domain": ["Unmatched", "Matched"], "range": ["#bdbdbd", "#d2f55f"]}, "legend": null}}},
     {"transform": [{"aggregate": [{"op": "median", "field": "v", "as": "med"}], "groupby": ["day", "grp"]}, {"calculate": "indexof(['d21','d22'], datum.day) + (datum.grp == 'Matched' ? 0.2 : -0.2)", "as": "pos"}],
      "mark": {"type": "tick", "orient": "horizontal", "size": 13, "thickness": 1.6, "color": "#231815", "opacity": 1},
      "encoding": {"x": {"field": "pos", "type": "quantitative", "title": null}, "y": {"field": "med", "type": "quantitative", "title": "Annexin V⁺ (% in NKT-like)"}}}
    ]}
  ]}
 ]}
]
}
